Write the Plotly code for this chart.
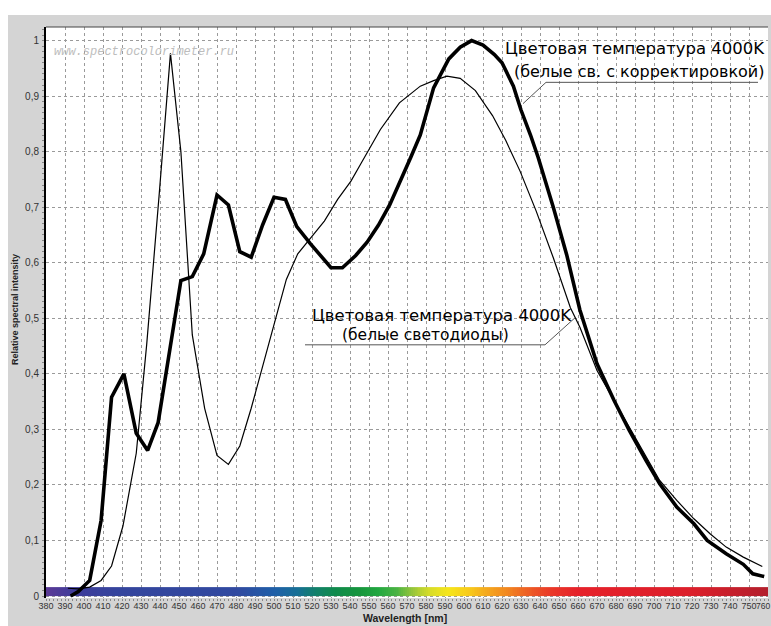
import plotly.graph_objects as go
import numpy as np

# ---- data ----
wl_corrected = [393, 397, 403, 409, 414.5, 421, 427.5, 433.5, 439, 451, 457, 463, 470, 476, 482, 488, 494,
                500, 506, 512, 519, 530, 536, 543, 549, 555, 561, 567, 572, 577, 584, 592, 598, 604, 610,
                616, 620, 626, 630, 635, 639, 647, 654, 661, 670, 679, 687, 696, 703, 712, 721, 728, 738,
                747, 752, 758]
int_corrected = [0.0, 0.008, 0.028, 0.136, 0.358, 0.40, 0.293, 0.262, 0.312, 0.568, 0.575, 0.616, 0.722,
                 0.704, 0.62, 0.61, 0.668, 0.718, 0.714, 0.665, 0.635, 0.591, 0.591, 0.613, 0.637, 0.668,
                 0.705, 0.75, 0.79, 0.83, 0.915, 0.967, 0.988, 1.0, 0.992, 0.975, 0.96, 0.918, 0.875, 0.83,
                 0.79, 0.70, 0.615, 0.515, 0.418, 0.352, 0.298, 0.243, 0.202, 0.16, 0.13, 0.10, 0.076,
                 0.057, 0.04, 0.035]

wl_white = [391.5, 397, 403, 409, 414.5, 420.5, 427.5, 433, 439.5, 445.5, 451, 457, 463.5, 470, 476, 482,
            488, 494, 500, 506.5, 512.5, 519.5, 526.5, 533.5, 540.5, 546, 556, 566, 577, 584, 591, 598,
            606, 615, 622, 629.5, 638, 647, 656, 661, 670, 686, 703, 712, 721, 729.5, 738, 747, 757]
int_white = [0.014, 0.013, 0.016, 0.028, 0.054, 0.126, 0.257, 0.453, 0.72, 0.977, 0.80, 0.47, 0.338,
             0.253, 0.237, 0.27, 0.338, 0.413, 0.492, 0.57, 0.616, 0.645, 0.675, 0.714, 0.747, 0.78,
             0.84, 0.888, 0.918, 0.928, 0.936, 0.932, 0.91, 0.865, 0.82, 0.765, 0.693, 0.609, 0.519,
             0.484, 0.406, 0.31, 0.208, 0.172, 0.139, 0.112, 0.088, 0.07, 0.053]

x_ticks = list(range(380, 761, 10))
y_ticks = [round(v * 0.1, 1) for v in range(0, 11)]

spectrum_stops = [(380, "#5b3a96"), (395, "#3e3c9a"), (420, "#34459d"), (480, "#3149a0"),
                  (500, "#1f5fa8"), (512, "#176f96"), (522, "#12806a"), (532, "#0f8a4c"),
                  (545, "#16953c"), (555, "#22a840"), (565, "#4db443"), (573, "#98c63a"),
                  (582, "#d8dd28"), (592, "#f6e51a"), (602, "#f8cc1a"), (612, "#f4a81d"),
                  (622, "#f2891f"), (632, "#ee6424"), (645, "#ea3a28"), (660, "#e6212a"),
                  (720, "#dc1f2b"), (760, "#b21f2c")]

SPECTRUM_TOP = 0.016

# ---- figure ----
fig = go.Figure()

# spectrum colour bar
edges = np.arange(380, 761, 1)
centers = (edges[:-1] + edges[1:]) / 2
lo, hi = spectrum_stops[0][0], spectrum_stops[-1][0]
cscale = [[(w - lo) / (hi - lo), c] for w, c in spectrum_stops]
fig.add_trace(go.Heatmap(x=edges, y=[0, SPECTRUM_TOP], z=[centers], colorscale=cscale,
                         zmin=lo, zmax=hi, showscale=False, hoverinfo="skip"))

fig.add_trace(go.Scatter(x=wl_white, y=int_white, mode="lines",
                         line=dict(color="black", width=1.2), showlegend=False))
fig.add_trace(go.Scatter(x=wl_corrected, y=int_corrected, mode="lines",
                         line=dict(color="black", width=3.6), showlegend=False))

W, H = 771, 626
ml, mr, mt, mb = 46, 3, 27, 28
pw, ph = W - ml - mr, H - mt - mb

def px2paper_x(px):
    return (px - ml) / pw

def px2paper_y(py):
    return (H - mb - py) / ph

shapes = []
# white strips around the grey panel
shapes.append(dict(type="rect", xref="paper", yref="paper", x0=px2paper_x(-5), x1=px2paper_x(W + 5),
                   y0=px2paper_y(15), y1=px2paper_y(-5), fillcolor="white", line=dict(width=0), layer="below"))
shapes.append(dict(type="rect", xref="paper", yref="paper", x0=px2paper_x(-5), x1=px2paper_x(8),
                   y0=px2paper_y(H + 5), y1=px2paper_y(-5), fillcolor="white", line=dict(width=0), layer="below"))
# top border of plot
shapes.append(dict(type="line", xref="paper", yref="paper", x0=0, x1=1, y0=1, y1=1,
                   line=dict(color="#444", width=1.2)))

def d2x(px):
    return (px - 46) / 1.9 + 380

def d2y(py):
    return (596 - py) / 555

# leader lines
lc = dict(color="#555", width=1)
shapes.append(dict(type="line", x0=d2x(546), x1=d2x(758), y0=d2y(82.7), y1=d2y(82.7), line=lc))
shapes.append(dict(type="line", x0=d2x(546), x1=d2x(523), y0=d2y(82.7), y1=d2y(104), line=lc))
shapes.append(dict(type="line", x0=d2x(305), x1=d2x(545), y0=d2y(345), y1=d2y(345), line=lc))
shapes.append(dict(type="line", x0=d2x(545), x1=d2x(575), y0=d2y(345), y1=d2y(318), line=lc))

def f(size):
    return dict(family="DejaVu Sans", size=size, color="black")

annotations = [
    dict(x=d2x(503), y=d2y(49), text="Цветовая температура 4000K", xanchor="left", yanchor="middle",
         showarrow=False, font=f(16.5)),
    dict(x=d2x(512), y=d2y(72), text="(белые св. с корректировкой)", xanchor="left", yanchor="middle",
         showarrow=False, font=f(16)),
    dict(x=d2x(310), y=d2y(316), text="Цветовая температура 4000K", xanchor="left", yanchor="middle",
         showarrow=False, font=f(16.5)),
    dict(x=d2x(340), y=d2y(335), text="(белые светодиоды)", xanchor="left", yanchor="middle",
         showarrow=False, font=f(15.5)),
    dict(xref="paper", yref="paper", x=px2paper_x(52), y=px2paper_y(52), text="<i>www.spectrocolorimeter.ru</i>",
         xanchor="left", yanchor="middle", showarrow=False,
         font=dict(family="Liberation Mono", size=12, color="#bdbdbd")),
    dict(xref="paper", yref="paper", x=px2paper_x(405), y=px2paper_y(618), text="<b>Wavelength [nm]</b>",
         xanchor="center", yanchor="middle", showarrow=False,
         font=dict(family="Liberation Sans", size=10.5, color="#222")),
    dict(xref="paper", yref="paper", x=px2paper_x(15), y=px2paper_y(310), text="<b>Relative spectral intensity</b>",
         xanchor="center", yanchor="middle", showarrow=False, textangle=-90,
         font=dict(family="Liberation Sans", size=9, color="#222")),
    dict(xref="paper", yref="paper", x=px2paper_x(771), y=px2paper_y(606), text="760",
         xanchor="right", yanchor="middle", borderpad=0,
         showarrow=False, font=dict(family="Liberation Sans", size=8.5, color="#333")),
]

fig.update_layout(
    width=W, height=H,
    margin=dict(l=ml, r=mr, t=mt, b=mb, pad=0),
    paper_bgcolor="#d4d4d4", plot_bgcolor="white",
    separators=", ",
    showlegend=False,
    shapes=shapes, annotations=annotations,
    xaxis=dict(range=[380, 760], tickvals=x_ticks[:-1], ticktext=[str(v) for v in x_ticks[:-1]],
               tickangle=0,
               showgrid=True, gridcolor="#9a9a9a", griddash="dot", gridwidth=1,
               zeroline=False, showline=False, ticks="", ticklabelstandoff=1,
               tickfont=dict(family="Liberation Sans", size=9, color="#333"),
               minor=dict(dtick=2, ticks="outside", ticklen=2, tickcolor="#888", showgrid=False)),
    yaxis=dict(range=[-0.0036, 1.0245], tickvals=y_ticks,
               ticktext=["0" if v == 0 else ("1" if v == 1 else str(v).replace(".", ",")) for v in y_ticks],
               showgrid=True, gridcolor="#9a9a9a", griddash="dot", gridwidth=1,
               zeroline=False, showline=True, linecolor="black", linewidth=2,
               ticks="", ticklabelstandoff=3,
               tickfont=dict(family="Liberation Sans", size=10, color="#333"),
               minor=dict(dtick=0.01, ticks="outside", ticklen=2, tickcolor="#888", showgrid=False)),
)

fig.write_html("out.html")
